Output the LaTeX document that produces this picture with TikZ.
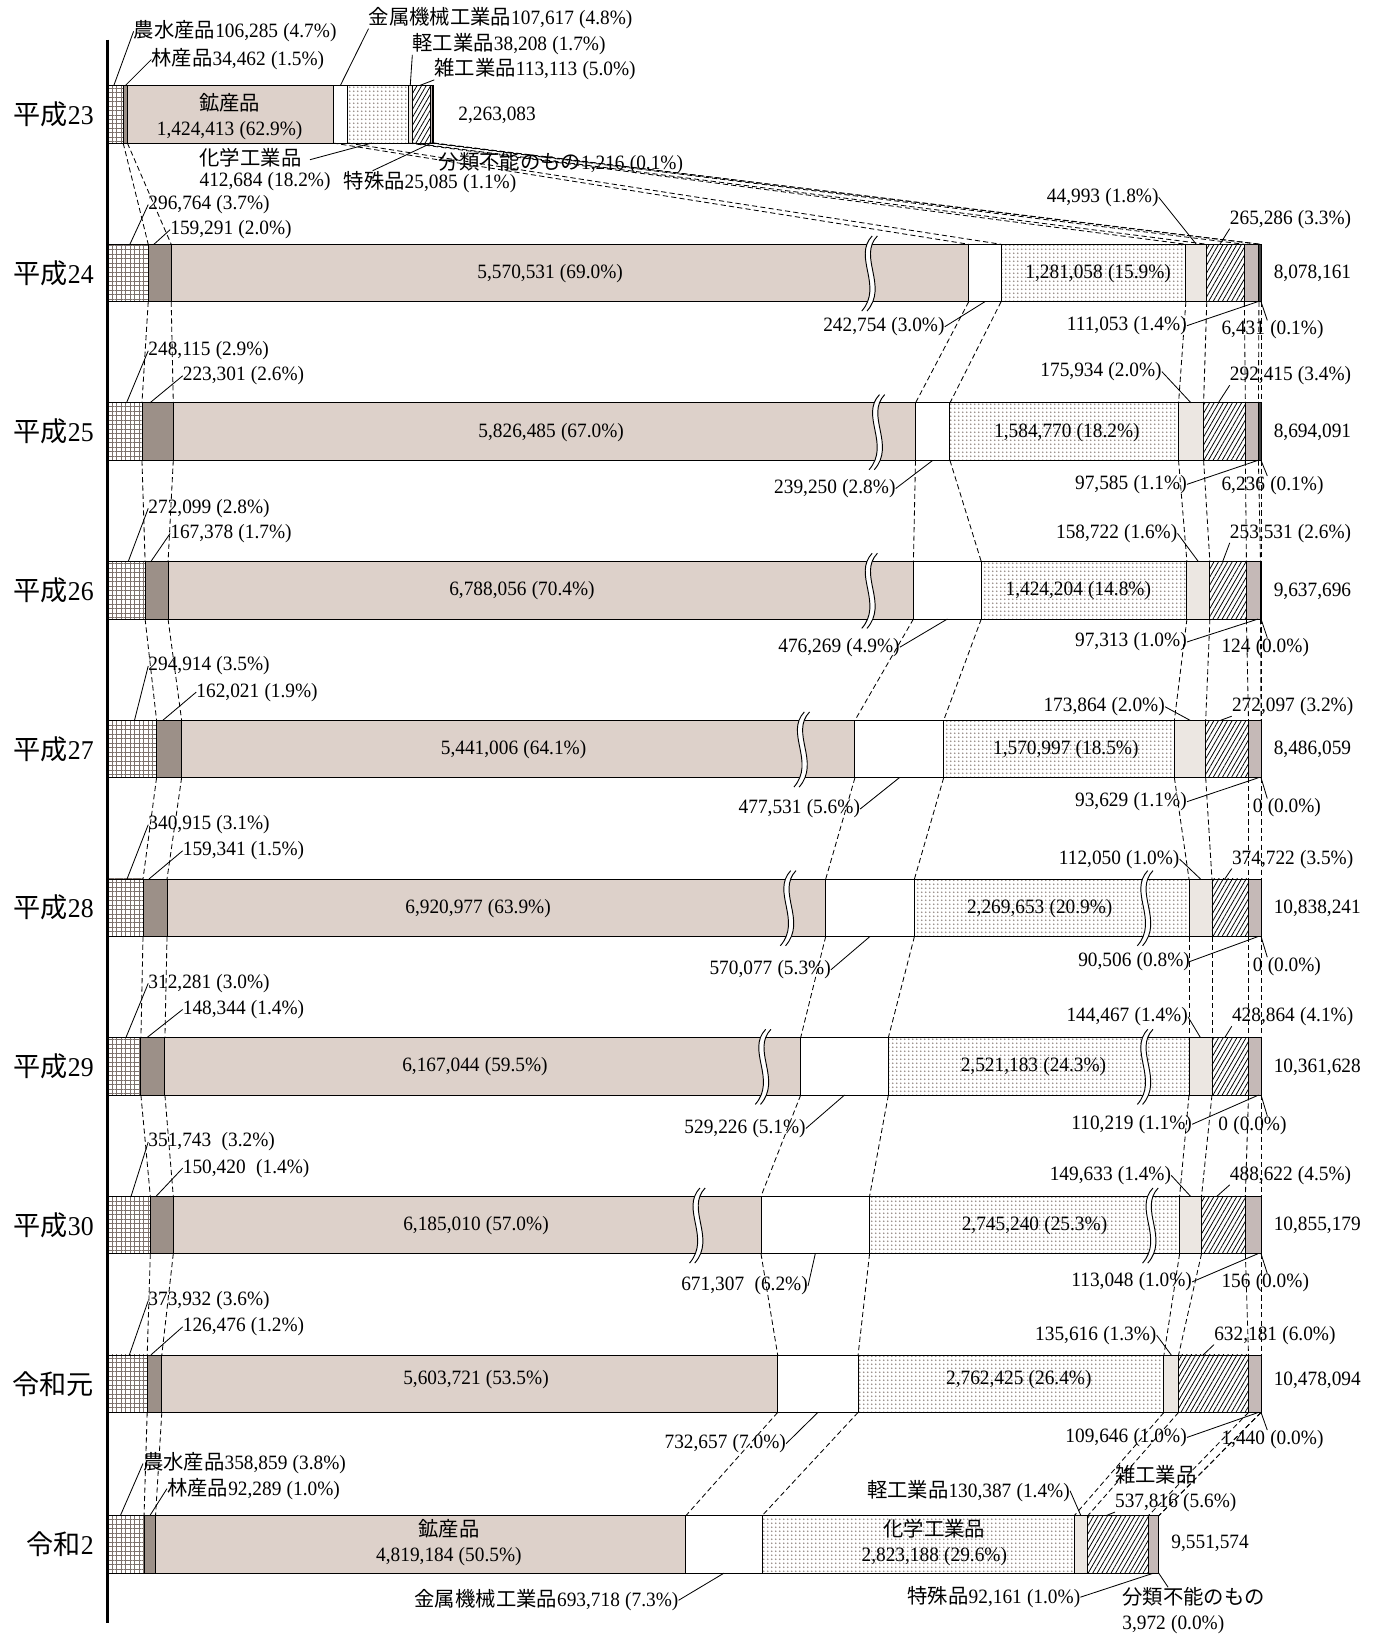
\documentclass[tikz,border=0pt]{standalone}
\usepackage{fontspec}
\setmainfont{Liberation Serif}[FakeStretch=0.95]
\newfontfamily\jpfont[Scale=1.0]{Noto Sans CJK JP}
\usetikzlibrary{calc,patterns.meta}

\definecolor{kousanc}{HTML}{DDD1CA}
\definecolor{rinsanc}{HTML}{9C9088}
\definecolor{keikouc}{HTML}{ECE7E2}
\definecolor{tokushuc}{HTML}{C5B9B7}
\definecolor{gridc}{HTML}{7D726D}
\definecolor{dotc}{HTML}{958A84}

\newcommand\jp[1]{{\jpfont #1}}
\newcommand\pc[1]{\kern5pt(#1\%)}

\tikzset{
  seg/.style={draw=black,line width=.9pt},
  nousui/.style={seg,pattern={Hatch[angle=0,distance=4.3pt,line width=.6pt]},pattern color=gridc},
  rinsan/.style={seg,fill=rinsanc},
  kousan/.style={seg,fill=kousanc},
  kinzoku/.style={seg,fill=white},
  kagaku/.style={seg,pattern={Dots[distance=4pt,radius=1pt]},pattern color=dotc},
  keikou/.style={seg,fill=keikouc},
  zakkou/.style={seg,pattern={Lines[angle=60,distance=3.8pt,line width=.75pt]},pattern color=black},
  tokushu/.style={seg,fill=tokushuc},
  bunrui/.style={seg,fill=black!75},
  joinline/.style={dash pattern=on 5pt off 3pt,line width=.8pt},
  leadline/.style={line width=.8pt},
  lab/.style={inner sep=0pt,font=\fontsize{19.5}{24}\selectfont},
  yr/.style={inner sep=0pt,anchor=east,font=\fontsize{26}{30}\selectfont},
  brk/.pic={
    \fill[white] (5,-8) .. controls (-14,12) and (16,40) .. (-5,64) -- (0,64) .. controls (21,40) and (-9,12) .. (10,-8) -- cycle;
    \draw[line width=.9pt] (5,-8) .. controls (-14,12) and (16,40) .. (-5,64);
    \draw[line width=.9pt] (10,-8) .. controls (-9,12) and (21,40) .. (0,64);
  }
}

\begin{document}
\begin{tikzpicture}[x=1pt,y=-1pt]
  \useasboundingbox (0,0) rectangle (1320,1572);

  % bars: row / top / segment ends
  \foreach \r/\y/\xa/\xb/\xc/\xd/\xe/\xf/\xg/\xh/\xi in {
      1/82/118/122/319/333/391/395/412/414.5/415.5,
      2/234/142/164/928/959/1136/1156/1192/1206/1208,
      3/386/136/166/877/910/1129/1153/1193/1205.5/1208,
      4/538/139/161/875/940/1137/1159/1194/1207.5/1208,
      5/690/150/174/819/904/1125/1155/1196/1208/1208,
      6/842/137/160/791/876/1139/1161/1196/1208/1208,
      7/994/135/158/767/851/1139/1161/1196/1208/1208,
      8/1146/144/166/729/833/1130/1151/1193/1208/1208,
      9/1298/141/155/745/822/1115/1129/1196/1208/1208,
      10/1452/138/149/657/730/1029/1042/1100/1110/1110}{
    \foreach \k/\v in {0/103,1/\xa,2/\xb,3/\xc,4/\xd,5/\xe,6/\xf,7/\xg,8/\xh,9/\xi}{
      \coordinate (r\r-t\k) at (\v,\y);
      \coordinate (r\r-b\k) at (\v,\y+55);
    }
    \draw[nousui] (r\r-t0) rectangle (r\r-b1);
    \draw[rinsan] (r\r-t1) rectangle (r\r-b2);
    \draw[kousan] (r\r-t2) rectangle (r\r-b3);
    \draw[kinzoku] (r\r-t3) rectangle (r\r-b4);
    \draw[kagaku] (r\r-t4) rectangle (r\r-b5);
    \draw[keikou] (r\r-t5) rectangle (r\r-b6);
    \draw[zakkou] (r\r-t6) rectangle (r\r-b7);
    \draw[tokushu] (r\r-t7) rectangle (r\r-b8);
    \draw[bunrui] (r\r-t8) rectangle (r\r-b9);
  }

  % dashed ties between years
  \foreach \r/\s in {1/2,2/3,3/4,4/5,5/6,6/7,7/8,8/9,9/10}
    \foreach \k in {1,...,9}
      \draw[joinline] (r\r-b\k) -- (r\s-t\k);

  % breaks
  \foreach \r/\x in {2/830.5,3/837.5,4/830.5,5/765.5,6/752.5,6/1094.5,7/728.5,7/1094.5,8/665.5,8/1099.5}
    \pic at (\x,0 |- r\r-t0) {brk};

  % axis
  \coordinate (ax0) at (103,38);
  \coordinate (ax1) at (103,1555);
  \draw[line width=2.6pt] (ax0) -- (ax1);

  % years
  \foreach \r/\t in {1/\jp{平成}23,2/\jp{平成}24,3/\jp{平成}25,4/\jp{平成}26,5/\jp{平成}27,
      6/\jp{平成}28,7/\jp{平成}29,8/\jp{平成}30,9/\jp{令和元},10/\jp{令和}2}
    \node[yr] (yr\r) at ($(r\r-t0)!.5!(r\r-b0)+(-13,0)$) {\t};

  % 平成23
  \node[lab,anchor=west] (A1) at (128,30) {\jp{農水産品}106,285\pc{4.7}};
  \node[lab,anchor=west] (B1) at (145,57) {\jp{林産品}34,462\pc{1.5}};
  \node[lab,align=center] (C1) at (220,112) {\jp{鉱産品}\\1,424,413\pc{62.9}};
  \node[lab,anchor=west] (E1) at (353,17) {\jp{金属機械工業品}107,617\pc{4.8}};
  \node[lab,anchor=west] (F1) at (395,42) {\jp{軽工業品}38,208\pc{1.7}};
  \node[lab,anchor=west] (G1) at (416,66) {\jp{雑工業品}113,113\pc{5.0}};
  \node[lab,anchor=west] (T1) at (439,110) {2,263,083};
  \node[lab,anchor=west] (D1a) at (191,151) {\jp{化学工業品}};
  \node[lab,anchor=west] (D1b) at (191,174) {412,684\pc{18.2}};
  \node[lab,anchor=west] (H1) at (329,174) {\jp{特殊品}25,085\pc{1.1}};
  \node[lab,anchor=west] (I1) at (420,156) {\jp{分類不能のもの}1,216\pc{0.1}};
  \draw[leadline] (A1.west) -- ($(r1-t0)!.4!(r1-t1)$);
  \draw[leadline] (B1.west) -- ($(r1-t1)!.5!(r1-t2)$);
  \draw[leadline] (E1.south west) -- ($(r1-t3)!.5!(r1-t4)$);
  \draw[leadline] (F1.south west) -- ($(r1-t5)!.5!(r1-t6)$);
  \draw[leadline] (G1.south west) -- ($(r1-t6)!.4!(r1-t7)$);
  \draw[leadline] ($(D1a.east)+(8,2)$) -- ($(r1-b4)!.4!(r1-b5)$);
  \draw[leadline] ($(H1.north west)+(28,0)$) -- ($(r1-b7)!.5!(r1-b8)$);

  % 平成24
  \node[lab,anchor=west] (A2) at (142,196) {296,764\pc{3.7}};
  \node[lab,anchor=west] (B2) at (163,220) {159,291\pc{2.0}};
  \node[lab] (C2) at (527,262) {5,570,531\pc{69.0}};
  \node[lab] (D2) at (1052,262) {1,281,058\pc{15.9}};
  \node[lab,anchor=west] (T2) at (1220,262) {8,078,161};
  \node[lab,anchor=east] (E2) at (905,313) {242,754\pc{3.0}};
  \node[lab,anchor=east] (F2) at (1110,189) {44,993\pc{1.8}};
  \node[lab,anchor=west] (G2) at (1178,210) {265,286\pc{3.3}};
  \node[lab,anchor=east] (H2) at (1137,312) {111,053\pc{1.4}};
  \node[lab,anchor=west] (I2) at (1170,316) {6,431\pc{0.1}};

  % 平成25
  \node[lab,anchor=west] (A3) at (142,336) {248,115\pc{2.9}};
  \node[lab,anchor=west] (B3) at (175,360) {223,301\pc{2.6}};
  \node[lab] (C3) at (528,414) {5,826,485\pc{67.0}};
  \node[lab] (D3) at (1022,414) {1,584,770\pc{18.2}};
  \node[lab,anchor=west] (T3) at (1220,414) {8,694,091};
  \node[lab,anchor=east] (E3) at (858,468) {239,250\pc{2.8}};
  \node[lab,anchor=east] (F3) at (1113,356) {175,934\pc{2.0}};
  \node[lab,anchor=west] (G3) at (1178,360) {292,415\pc{3.4}};
  \node[lab,anchor=east] (H3) at (1137,464) {97,585\pc{1.1}};
  \node[lab,anchor=west] (I3) at (1170,465) {6,236\pc{0.1}};

  % 平成26
  \node[lab,anchor=west] (A4) at (142,487) {272,099\pc{2.8}};
  \node[lab,anchor=west] (B4) at (163,511) {167,378\pc{1.7}};
  \node[lab] (C4) at (500,566) {6,788,056\pc{70.4}};
  \node[lab] (D4) at (1033,566) {1,424,204\pc{14.8}};
  \node[lab,anchor=west] (T4) at (1220,566) {9,637,696};
  \node[lab,anchor=east] (E4) at (862,620) {476,269\pc{4.9}};
  \node[lab,anchor=east] (F4) at (1128,511) {158,722\pc{1.6}};
  \node[lab,anchor=west] (G4) at (1178,511) {253,531\pc{2.6}};
  \node[lab,anchor=east] (H4) at (1137,615) {97,313\pc{1.0}};
  \node[lab,anchor=west] (I4) at (1170,620) {124\pc{0.0}};

  % 平成27
  \node[lab,anchor=west] (A5) at (142,638) {294,914\pc{3.5}};
  \node[lab,anchor=west] (B5) at (188,663) {162,021\pc{1.9}};
  \node[lab] (C5) at (492,718) {5,441,006\pc{64.1}};
  \node[lab] (D5) at (1021,718) {1,570,997\pc{18.5}};
  \node[lab,anchor=west] (T5) at (1220,718) {8,486,059};
  \node[lab,anchor=east] (E5) at (824,775) {477,531\pc{5.6}};
  \node[lab,anchor=east] (F5) at (1116,677) {173,864\pc{2.0}};
  \node[lab,anchor=west] (G5) at (1180,677) {272,097\pc{3.2}};
  \node[lab,anchor=east] (H5) at (1137,768) {93,629\pc{1.1}};
  \node[lab,anchor=west] (I5) at (1200,774) {0\pc{0.0}};

  % 平成28
  \node[lab,anchor=west] (A6) at (142,790) {340,915\pc{3.1}};
  \node[lab,anchor=west] (B6) at (175,815) {159,341\pc{1.5}};
  \node[lab] (C6) at (458,870) {6,920,977\pc{63.9}};
  \node[lab] (D6) at (996,870) {2,269,653\pc{20.9}};
  \node[lab,anchor=west] (T6) at (1220,870) {10,838,241};
  \node[lab,anchor=east] (E6) at (796,929) {570,077\pc{5.3}};
  \node[lab,anchor=east] (F6) at (1130,823) {112,050\pc{1.0}};
  \node[lab,anchor=west] (G6) at (1180,823) {374,722\pc{3.5}};
  \node[lab,anchor=east] (H6) at (1140,921) {90,506\pc{0.8}};
  \node[lab,anchor=west] (I6) at (1200,926) {0\pc{0.0}};

  % 平成29
  \node[lab,anchor=west] (A7) at (142,942) {312,281\pc{3.0}};
  \node[lab,anchor=west] (B7) at (175,967) {148,344\pc{1.4}};
  \node[lab] (C7) at (455,1022) {6,167,044\pc{59.5}};
  \node[lab] (D7) at (990,1022) {2,521,183\pc{24.3}};
  \node[lab,anchor=west] (T7) at (1220,1022) {10,361,628};
  \node[lab,anchor=east] (E7) at (772,1081) {529,226\pc{5.1}};
  \node[lab,anchor=east] (F7) at (1138,974) {144,467\pc{1.4}};
  \node[lab,anchor=west] (G7) at (1180,974) {428,864\pc{4.1}};
  \node[lab,anchor=east] (H7) at (1142,1077) {110,219\pc{1.1}};
  \node[lab,anchor=west] (I7) at (1167,1078) {0\pc{0.0}};

  % 平成30
  \node[lab,anchor=west] (A8) at (142,1094) {351,743\kern5pt\pc{3.2}};
  \node[lab,anchor=west] (B8) at (175,1119) {150,420\kern5pt\pc{1.4}};
  \node[lab] (C8) at (456,1174) {6,185,010\pc{57.0}};
  \node[lab] (D8) at (991,1174) {2,745,240\pc{25.3}};
  \node[lab,anchor=west] (T8) at (1220,1174) {10,855,179};
  \node[lab,anchor=east] (E8) at (774,1232) {671,307\kern5pt\pc{6.2}};
  \node[lab,anchor=east] (F8) at (1122,1126) {149,633\pc{1.4}};
  \node[lab,anchor=west] (G8) at (1178,1126) {488,622\pc{4.5}};
  \node[lab,anchor=east] (H8) at (1142,1228) {113,048\pc{1.0}};
  \node[lab,anchor=west] (I8) at (1170,1229) {156\pc{0.0}};

  % 令和元
  \node[lab,anchor=west] (A9) at (142,1246) {373,932\pc{3.6}};
  \node[lab,anchor=west] (B9) at (175,1271) {126,476\pc{1.2}};
  \node[lab] (C9) at (456,1322) {5,603,721\pc{53.5}};
  \node[lab] (D9) at (976,1322) {2,762,425\pc{26.4}};
  \node[lab,anchor=west] (T9) at (1220,1322) {10,478,094};
  \node[lab,anchor=east] (E9) at (753,1383) {732,657\pc{7.0}};
  \node[lab,anchor=east] (F9) at (1108,1279) {135,616\pc{1.3}};
  \node[lab,anchor=west] (G9) at (1163,1279) {632,181\pc{6.0}};
  \node[lab,anchor=east] (H9) at (1137,1377) {109,646\pc{1.0}};
  \node[lab,anchor=west] (I9) at (1170,1379) {1,440\pc{0.0}};

  \foreach \r/\o in {2/44,3/44,4/44,5/14,6/14,7/47,8/44,9/44}{
    \draw[leadline] (A\r.west) -- ($(r\r-t0)!.55!(r\r-t1)$);
    \draw[leadline] (B\r.west) -- ($(r\r-t1)!.25!(r\r-t2)$);
    \draw[leadline] (E\r.east) -- ($(r\r-b3)!.5!(r\r-b4)$);
    \draw[leadline] (F\r.east) -- ($(r\r-t5)!.5!(r\r-t6)$);
    \draw[leadline] (G\r.south west) -- ($(r\r-t6)!.35!(r\r-t7)$);
    \draw[leadline] (H\r.east) -- ($(r\r-b7)!.8!(r\r-b9)$);
    \draw[leadline] ($(I\r.north west)+(\o,0)$) -- (r\r-b9);
  }

  % 令和2
  \node[lab,anchor=west] (A10) at (137,1402) {\jp{農水産品}358,859\pc{3.8}};
  \node[lab,anchor=west] (B10) at (160,1426) {\jp{林産品}92,289\pc{1.0}};
  \node[lab,align=center] (C10) at (430,1478) {\jp{鉱産品}\\4,819,184\pc{50.5}};
  \node[lab,align=center] (D10) at (895,1478) {\jp{化学工業品}\\2,823,188\pc{29.6}};
  \node[lab,anchor=west] (T10) at (1122,1478) {9,551,574};
  \node[lab,anchor=east] (E10) at (650,1533) {\jp{金属機械工業品}693,718\pc{7.3}};
  \node[lab,anchor=east] (F10) at (1025,1428) {\jp{軽工業品}130,387\pc{1.4}};
  \node[lab,anchor=west,align=left] (G10) at (1068,1426) {\jp{雑工業品}\\537,816\pc{5.6}};
  \node[lab,anchor=east] (H10) at (1035,1530) {\jp{特殊品}92,161\pc{1.0}};
  \node[lab,anchor=west,align=left] (I10) at (1075,1543) {\jp{分類不能のもの}\\3,972\pc{0.0}};
  \draw[leadline] (A10.west) -- ($(r10-t0)!.35!(r10-t1)$);
  \draw[leadline] (B10.west) -- ($(r10-t1)!.5!(r10-t2)$);
  \draw[leadline] (E10.east) -- ($(r10-b3)!.5!(r10-b4)$);
  \draw[leadline] (F10.east) -- ($(r10-t5)!.5!(r10-t6)$);
  \draw[leadline] (G10.south west) -- ($(r10-t6)!.3!(r10-t7)$);
  \draw[leadline] (H10.east) -- ($(r10-b7)!.5!(r10-b8)$);
  \draw[leadline] ($(I10.north west)+(44,0)$) -- (r10-b9);
\end{tikzpicture}
\end{document}
